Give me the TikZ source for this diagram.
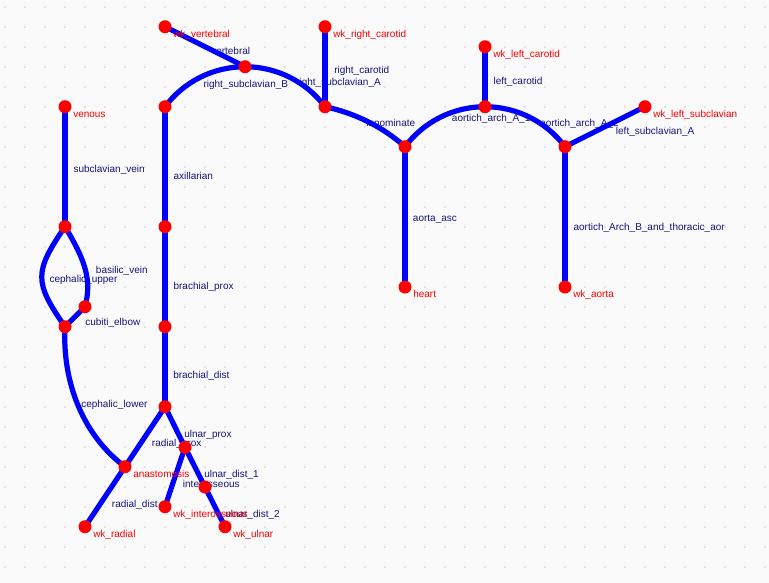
\documentclass[tikz,border=0pt]{standalone}
\usepackage{fontspec}
\setmainfont{Liberation Sans}
\pgfdeclarelayer{back}
\pgfdeclarelayer{elabels}
\pgfdeclarelayer{edges}
\pgfsetlayers{back,elabels,edges,main}
\definecolor{bgcol}{RGB}{250,250,250}
\definecolor{griddot}{RGB}{226,226,226}
\definecolor{edgeblue}{RGB}{0,0,255}
\definecolor{nodered}{RGB}{255,0,0}
\definecolor{labnavy}{RGB}{20,20,120}
\begin{document}
\begin{tikzpicture}[x=0.75pt,y=-0.75pt,
  vtx/.style={circle,fill=nodered,inner sep=0pt,minimum size=9.75pt},
  nodelabel/.style={anchor=base west,inner sep=0pt,text=nodered,font=\fontsize{7.5}{9}\selectfont},
  edgelabel/.style={anchor=base west,inner sep=0pt,text=labnavy,font=\fontsize{7.5}{9}\selectfont},
  vessel/.style={draw=edgeblue,line width=3.9pt}]
\begin{pgfonlayer}{back}
  \fill[bgcol] (0,0) rectangle (769,583);
  \useasboundingbox (0,0) rectangle (769,583);
  \foreach \i in {0,...,38}{
    \foreach \j in {0,...,28}{
      \fill[griddot] (4+20*\i,6+20*\j) rectangle ++(2,2);
    }
  }
\end{pgfonlayer}
% vertices
\node[vtx] (wkvert) at (165,26.7) {};
\node[vtx] (vert) at (245,66.7) {};
\node[vtx] (wkrc) at (325,26.7) {};
\node[vtx] (rsa) at (325,106.7) {};
\node[vtx] (axtop) at (165,106.7) {};
\node[vtx] (inno) at (405,146.7) {};
\node[vtx] (heart) at (405,287) {};
\node[vtx] (lcj) at (485,106.7) {};
\node[vtx] (wklc) at (485,46.7) {};
\node[vtx] (arch2) at (565,146.7) {};
\node[vtx] (wkls) at (645,106.7) {};
\node[vtx] (wkao) at (565,287) {};
\node[vtx] (venous) at (65,106.7) {};
\node[vtx] (svlow) at (65,226.7) {};
\node[vtx] (basil) at (85,306.7) {};
\node[vtx] (elbow) at (65,326.7) {};
\node[vtx] (axlow) at (165,226.7) {};
\node[vtx] (brmid) at (165,326.7) {};
\node[vtx] (brend) at (165,406.7) {};
\node[vtx] (anast) at (125,466.7) {};
\node[vtx] (ulp) at (185,447.3) {};
\node[vtx] (uld) at (205,487) {};
\node[vtx] (wkint) at (165,506.7) {};
\node[vtx] (wkrad) at (85,526.7) {};
\node[vtx] (wkuln) at (225,526.7) {};
% vertex labels
\node[nodelabel] (lwkvert) at ([shift={(8,10.6)}]wkvert.center) {wk\_vertebral};
\node[nodelabel] (lwkrc) at ([shift={(8,10.6)}]wkrc.center) {wk\_right\_carotid};
\node[nodelabel] (lwklc) at ([shift={(8,10.6)}]wklc.center) {wk\_left\_carotid};
\node[nodelabel] (lwkls) at ([shift={(8,10.6)}]wkls.center) {wk\_left\_subclavian};
\node[nodelabel] (lvenous) at ([shift={(8,10.6)}]venous.center) {venous};
\node[nodelabel] (lheart) at ([shift={(8,10.6)}]heart.center) {heart};
\node[nodelabel] (lwkao) at ([shift={(8,10.6)}]wkao.center) {wk\_aorta};
\node[nodelabel] (lanast) at ([shift={(8,10.6)}]anast.center) {anastomosis};
\node[nodelabel] (lwkint) at ([shift={(8,10.6)}]wkint.center) {wk\_interosseous};
\node[nodelabel] (lwkrad) at ([shift={(8,10.6)}]wkrad.center) {wk\_radial};
\node[nodelabel] (lwkuln) at ([shift={(8,10.6)}]wkuln.center) {wk\_ulnar};
% edge labels
\begin{pgfonlayer}{elabels}
\node[edgelabel] (evert) at (211,54.3) {vertebral};
\node[edgelabel] (erc) at (334,73.6) {right\_carotid};
\node[edgelabel] (ersb) at (203.3,87.6) {right\_subclavian\_B};
\node[edgelabel] (ersa) at (296,85.9) {right\_subclavian\_A};
\node[edgelabel] (einno) at (366,126.9) {innominate};
\node[edgelabel] (elc) at (493.3,84.3) {left\_carotid};
\node[edgelabel] (ea1) at (451.7,121.9) {aortich\_arch\_A\_1};
\node[edgelabel] (ea2) at (540,126.3) {aortich\_arch\_A\_2};
\node[edgelabel] (els) at (615.7,134.3) {left\_subclavian\_A};
\node[edgelabel] (esv) at (73.3,172.6) {subclavian\_vein};
\node[edgelabel] (eax) at (173.3,179.6) {axillarian};
\node[edgelabel] (easc) at (412.7,221.3) {aorta\_asc};
\node[edgelabel] (eab) at (573.3,230.3) {aortich\_Arch\_B\_and\_thoracic\_aor};
\node[edgelabel] (ebas) at (95.7,273.6) {basilic\_vein};
\node[edgelabel] (ecu) at (49.3,282.6) {cephalic\_upper};
\node[edgelabel] (ebp) at (173.3,289.6) {brachial\_prox};
\node[edgelabel] (ece) at (85,325.3) {cubiti\_elbow};
\node[edgelabel] (ebd) at (173,378.6) {brachial\_dist};
\node[edgelabel] (ecl) at (81,407.6) {cephalic\_lower};
\node[edgelabel] (eup) at (184,437.6) {ulnar\_prox};
\node[edgelabel] (erp) at (151.7,446.9) {radial\_prox};
\node[edgelabel] (eud1) at (204,477.6) {ulnar\_dist\_1};
\node[edgelabel] (eint) at (182.7,487.6) {interosseous};
\node[edgelabel] (erd) at (111.7,507.6) {radial\_dist};
\node[edgelabel] (eud2) at (225,517.6) {ulnar\_dist\_2};
\end{pgfonlayer}
% edges
\begin{pgfonlayer}{edges}
\draw[vessel] (wkvert.center) -- (vert.center);
\draw[vessel] (axtop.center) .. controls (183.9,81.5) and (213.5,66.7) .. (vert.center);
\draw[vessel] (vert.center) .. controls (276.5,66.7) and (306.1,81.5) .. (rsa.center);
\draw[vessel] (rsa.center) -- (wkrc.center);
\draw[vessel] (rsa.center) .. controls (354.3,112.9) and (382.7,126.6) .. (inno.center);
\draw[vessel] (inno.center) -- (heart.center);
\draw[vessel] (inno.center) .. controls (423.9,121.5) and (453.5,106.7) .. (lcj.center);
\draw[vessel] (lcj.center) -- (wklc.center);
\draw[vessel] (lcj.center) .. controls (516.5,106.7) and (546.1,121.5) .. (arch2.center);
\draw[vessel] (arch2.center) -- (wkls.center);
\draw[vessel] (arch2.center) -- (wkao.center);
\draw[vessel] (venous.center) -- (svlow.center);
\draw[vessel] (svlow.center) .. controls (34,272) and (34,282) .. (elbow.center);
\draw[vessel] (svlow.center) .. controls (85.6,261) and (92,280) .. (basil.center);
\draw[vessel] (basil.center) -- (elbow.center);
\draw[vessel] (elbow.center) .. controls (62,385) and (85,437) .. (anast.center);
\draw[vessel] (axtop.center) -- (axlow.center);
\draw[vessel] (axlow.center) -- (brmid.center);
\draw[vessel] (brmid.center) -- (brend.center);
\draw[vessel] (brend.center) -- (anast.center);
\draw[vessel] (anast.center) -- (wkrad.center);
\draw[vessel] (brend.center) -- (ulp.center);
\draw[vessel] (ulp.center) -- (wkint.center);
\draw[vessel] (ulp.center) -- (uld.center);
\draw[vessel] (uld.center) -- (wkuln.center);
\end{pgfonlayer}
\end{tikzpicture}
\end{document}
